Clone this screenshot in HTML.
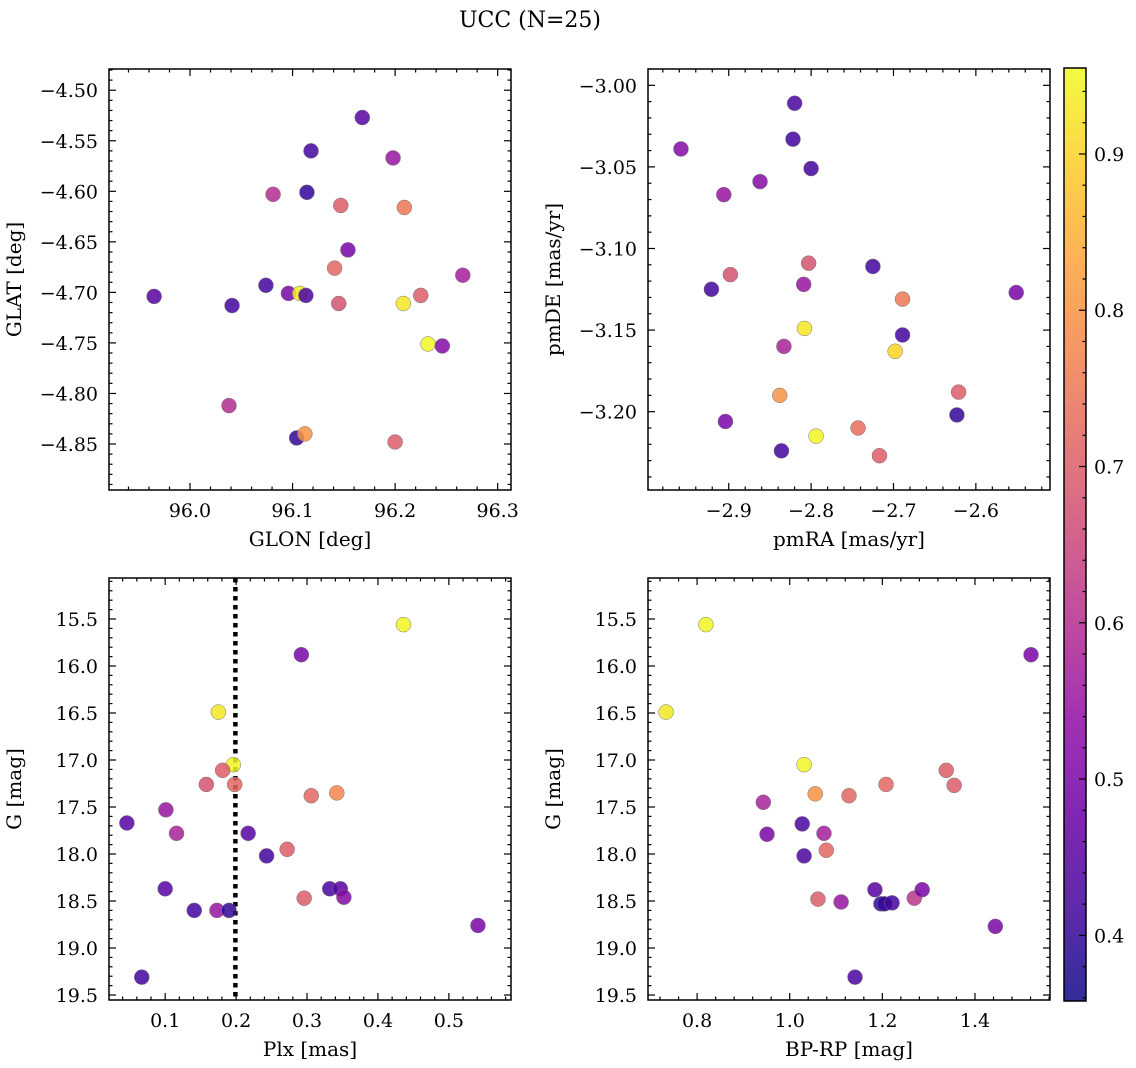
<!DOCTYPE html>
<html><head><meta charset="utf-8">
<style>
body{margin:0;background:#fff;}
svg{display:block;font-family:"DejaVu Serif","Liberation Serif",serif;}
</style></head>
<body>
<svg id="fig" width="1136" height="1068" viewBox="0 0 1136 1068">
<text x="530" y="27" font-size="22" text-anchor="middle">UCC (N=25)</text>
</svg>
<script>
// ---- data ----
const glon = [96.168,96.118,96.198,96.081,96.114,96.147,96.209,96.154,96.141,96.266,95.965,96.074,96.096,96.107,96.113,96.225,96.041,96.145,96.208,96.232,96.246,96.038,96.104,96.112,96.200];
const glat = [-4.527,-4.560,-4.567,-4.603,-4.601,-4.614,-4.616,-4.658,-4.676,-4.683,-4.704,-4.693,-4.701,-4.701,-4.703,-4.703,-4.713,-4.711,-4.711,-4.751,-4.753,-4.812,-4.844,-4.840,-4.848];
const probA = [0.45,0.42,0.55,0.60,0.40,0.70,0.75,0.50,0.72,0.57,0.45,0.42,0.50,0.93,0.43,0.70,0.42,0.68,0.93,0.95,0.52,0.60,0.40,0.80,0.70];

const pmra = [-2.820,-2.958,-2.822,-2.800,-2.906,-2.862,-2.803,-2.725,-2.921,-2.898,-2.809,-2.551,-2.689,-2.808,-2.689,-2.833,-2.698,-2.621,-2.838,-2.623,-2.904,-2.743,-2.794,-2.836,-2.717];
const pmde = [-3.011,-3.039,-3.033,-3.051,-3.067,-3.059,-3.109,-3.111,-3.125,-3.116,-3.122,-3.127,-3.131,-3.149,-3.153,-3.160,-3.163,-3.188,-3.190,-3.202,-3.206,-3.210,-3.215,-3.224,-3.227];
const probB = [0.43,0.52,0.42,0.42,0.55,0.52,0.68,0.42,0.42,0.68,0.55,0.50,0.75,0.93,0.42,0.58,0.90,0.70,0.80,0.40,0.50,0.73,0.95,0.42,0.70];

const plx = [0.436,0.292,0.175,0.196,0.181,0.198,0.158,0.101,0.306,0.342,0.046,0.116,0.217,0.243,0.272,0.100,0.332,0.347,0.141,0.173,0.190,0.296,0.352,0.541,0.067];
const gmagC = [15.56,15.88,16.49,17.05,17.11,17.26,17.26,17.53,17.38,17.35,17.67,17.78,17.78,18.02,17.95,18.37,18.37,18.37,18.60,18.60,18.60,18.47,18.46,18.76,19.31];
const probC = [0.95,0.50,0.93,0.95,0.70,0.72,0.68,0.55,0.72,0.78,0.45,0.58,0.45,0.42,0.70,0.45,0.43,0.45,0.42,0.55,0.40,0.70,0.52,0.50,0.42];

const bprp = [0.819,0.733,1.521,1.031,1.055,1.128,1.208,1.338,1.355,0.943,0.951,1.027,1.074,1.079,1.031,1.061,1.111,1.184,1.197,1.205,1.221,1.269,1.286,1.444,1.141];
const gmagD = [15.56,16.49,15.88,17.05,17.36,17.38,17.26,17.11,17.27,17.45,17.79,17.68,17.78,17.96,18.02,18.48,18.51,18.38,18.53,18.53,18.52,18.47,18.38,18.77,19.31];
const probD = [0.95,0.93,0.50,0.95,0.80,0.72,0.72,0.70,0.70,0.58,0.50,0.43,0.57,0.72,0.43,0.70,0.55,0.45,0.40,0.40,0.42,0.62,0.50,0.50,0.43];

const cbTicks = [0.4,0.5,0.6,0.7,0.8,0.9];
const vmin = 0.358, vmax = 0.955;

// ---- helpers ----
const NS = "http://www.w3.org/2000/svg";
const fig = document.getElementById('fig');
function mk(tag, attrs, parent){
  const e = document.createElementNS(NS, tag);
  for (const k in attrs) e.setAttribute(k, attrs[k]);
  (parent||fig).appendChild(e);
  return e;
}
const stops = ["#0d0887","#41049d","#6a00a8","#8f0da4","#b12a90","#cc4778","#e16462","#f2844b","#fca636","#fcce25","#f0f921"];
function hex(h){return [parseInt(h.substr(1,2),16),parseInt(h.substr(3,2),16),parseInt(h.substr(5,2),16)];}
function plasma(t){
  t=Math.max(0,Math.min(1,t));
  const f=t*10, i=Math.min(9,Math.floor(f)), r=f-i;
  const a=hex(stops[i]), b=hex(stops[i+1]);
  return 'rgb('+a.map((v,k)=>Math.round(v+(b[k]-v)*r)).join(',')+')';
}
function fmt(v,d){ const s=v.toFixed(d); return v<0? '\u2212'+s.substr(1): s; }

function panel(name, box, xr, yr, xMaj, xMin, yMaj, yMin, xd, yd, xlabel, ylabel, xs, ys, ps, vline){
  const [L,T,R,B]=box;
  const g = mk('g',{});
  
  
  const X = v => L + (v-xr[0])/(xr[1]-xr[0])*(R-L);
  const Y = v => T + (v-yr[0])/(yr[1]-yr[0])*(B-T);
  const eps=1e-9;
  const tickG = mk('g',{stroke:'#000','stroke-width':1.2},g);
  
  
  const xlo=Math.min(...xr), xhi=Math.max(...xr), ylo=Math.min(...yr), yhi=Math.max(...yr);
  for(let v=Math.ceil(xlo/xMin-eps)*xMin; v<=xhi+eps; v+=xMin){
    const px=X(v); const maj=Math.abs(v/xMaj-Math.round(v/xMaj))<1e-6; const len=maj?7:3.5;
    mk('line',{x1:px,x2:px,y1:B,y2:B-len},tickG); mk('line',{x1:px,x2:px,y1:T,y2:T+len},tickG);
    if(maj){ const t=mk('text',{x:px,y:B+27,'font-size':19,'text-anchor':'middle'},g); t.textContent=fmt(Math.round(v/xMaj)*xMaj,xd);
        }
  }
  for(let v=Math.ceil(ylo/yMin-eps)*yMin; v<=yhi+eps; v+=yMin){
    const py=Y(v); const maj=Math.abs(v/yMaj-Math.round(v/yMaj))<1e-6; const len=maj?7:3.5;
    mk('line',{x1:L,x2:L+len,y1:py,y2:py},tickG); mk('line',{x1:R,x2:R-len,y1:py,y2:py},tickG);
    if(maj){ const t=mk('text',{x:L-11,y:py+7,'font-size':19,'text-anchor':'end'},g); t.textContent=fmt(Math.round(v/yMaj)*yMaj,yd);
        }
  }
  if(vline!==undefined){
    const l=mk('line',{x1:X(vline),x2:X(vline),y1:T,y2:B,stroke:'#000','stroke-width':4.5,'stroke-dasharray':'4.5,4.5'},g);
     
  }
  const pts=mk('g',{},g);
  
  
  for(let i=0;i<xs.length;i++){
    const c=mk('circle',{cx:X(xs[i]),cy:Y(ys[i]),r:7.5,fill:plasma((ps[i]-vmin)/(vmax-vmin)),'fill-opacity':0.85,stroke:'#777','stroke-width':0.5},pts);
    
    
  }
  const fr=mk('rect',{x:L,y:T,width:R-L,height:B-T,fill:'none',stroke:'#000','stroke-width':1.5},g);
   
  const xl=mk('text',{x:(L+R)/2,y:B+56,'font-size':20,'text-anchor':'middle'},g); xl.textContent=xlabel;
   
  const cy=(T+B)/2, cx=L-88;
  const yl=mk('text',{x:cx,y:cy,'font-size':20,'text-anchor':'middle',transform:'rotate(-90 '+cx+' '+cy+')'},g); yl.textContent=ylabel;
   
}

panel('glon-glat-panel',[109,69,511,490],[95.921,96.313],[-4.479,-4.8955],0.1,0.02,0.05,0.01,1,2,'GLON [deg]','GLAT [deg]',glon,glat,probA);
panel('pm-panel',[648,69,1050,490],[-2.998,-2.510],[-2.990,-3.248],0.1,0.02,0.05,0.01,1,2,'pmRA [mas/yr]','pmDE [mas/yr]',pmra,pmde,probB);
panel('plx-g-panel',[109,578,511,1000],[0.0208,0.5876],[15.064,19.553],0.1,0.02,0.5,0.1,1,1,'Plx [mas]','G [mag]',plx,gmagC,probC,0.199);
panel('color-mag-panel',[648,578,1050,1000],[0.694,1.562],[15.064,19.553],0.2,0.04,0.5,0.1,1,1,'BP-RP [mag]','G [mag]',bprp,gmagD,probD);

// colorbar
(function(){
  const L=1064,R=1086,T=68,B=1001;
  const defs=mk('defs',{});
  const lg=mk('linearGradient',{id:'cbg',x1:0,y1:1,x2:0,y2:0},defs);
  for(let i=0;i<=20;i++){ mk('stop',{offset:i/20,'stop-color':plasma(i/20),'stop-opacity':0.85},lg); }
  const r=mk('rect',{x:L,y:T,width:R-L,height:B-T,fill:'url(#cbg)',stroke:'#000','stroke-width':1.5});
   
  const Y=v=>B-(v-vmin)/(vmax-vmin)*(B-T);
  for(let v=0.36; v<=vmax+1e-9; v+=0.02){
    const py=Y(v); const maj=Math.abs(v*10-Math.round(v*10))<1e-6;
    mk('line',{x1:R,x2:R-(maj?7:3.5),y1:py,y2:py,stroke:'#000','stroke-width':1.2});
  }
  for(const v of cbTicks){
    const t=mk('text',{x:R+8,y:Y(v)+7,'font-size':19}); t.textContent=v.toFixed(1);
     
  }
})();
</script>
</body></html>
